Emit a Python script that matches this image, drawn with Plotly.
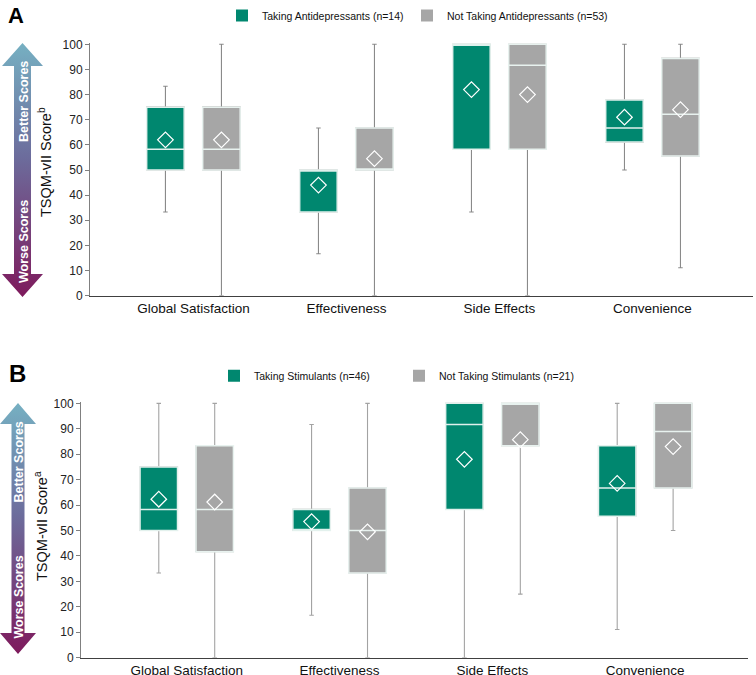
import base64
import plotly.graph_objects as go

# ---------------- data ----------------
categories = ["Global Satisfaction", "Effectiveness", "Side Effects", "Convenience"]

# Panel A: antidepressants
a_take_name = "Taking Antidepressants (n=14)"
a_take_low = [33.3, 16.7, 33.3, 50.0]
a_take_q1 = [50.0, 33.3, 58.3, 61.1]
a_take_med = [58.3, 50.0, 100.0, 66.7]
a_take_q3 = [75.0, 50.0, 100.0, 77.8]
a_take_high = [83.3, 66.7, 100.0, 100.0]
a_take_mean = [62.0, 44.0, 82.0, 71.0]

a_not_name = "Not Taking Antidepressants (n=53)"
a_not_low = [0.0, 0.0, 0.0, 11.1]
a_not_q1 = [50.0, 50.0, 58.3, 55.6]
a_not_med = [58.3, 50.0, 91.7, 72.2]
a_not_q3 = [75.0, 66.7, 100.0, 94.4]
a_not_high = [100.0, 100.0, 100.0, 100.0]
a_not_mean = [62.0, 54.5, 80.0, 74.0]

# Panel B: stimulants
b_take_name = "Taking Stimulants (n=46)"
b_take_low = [33.3, 16.7, 0.0, 11.1]
b_take_q1 = [50.0, 50.0, 58.3, 55.6]
b_take_med = [58.3, 50.0, 91.7, 66.7]
b_take_q3 = [75.0, 58.3, 100.0, 83.3]
b_take_high = [100.0, 91.7, 100.0, 100.0]
b_take_mean = [62.3, 53.5, 78.0, 68.5]

b_not_name = "Not Taking Stimulants (n=21)"
b_not_low = [0.0, 0.0, 25.0, 50.0]
b_not_q1 = [41.7, 33.3, 83.3, 66.7]
b_not_med = [58.3, 50.0, 100.0, 88.9]
b_not_q3 = [83.3, 66.7, 100.0, 100.0]
b_not_high = [100.0, 100.0, 100.0, 100.0]
b_not_mean = [61.2, 49.5, 85.7, 83.0]

y_ticks = [0, 10, 20, 30, 40, 50, 60, 70, 80, 90, 100]
y_title_a = "TSQM-vII Score<sup>b</sup>"
y_title_b = "TSQM-vII Score<sup>a</sup>"

# ---------------- style ----------------
TEAL = "#00876F"
GRAY = "#A6A6A6"
FONT = "Arial, Liberation Sans, sans-serif"
W, H = 756, 675
OFF = 0.183
BW = 0.245

fig = go.Figure()


def add_group(xa, ya, idx_shift, color, whisk_color, low, q1, med, q3, high, mean):
    pos = [i + idx_shift for i in range(len(categories))]
    # whiskers
    fig.add_trace(go.Box(
        x=pos, q1=q1, median=med, q3=q3, lowerfence=low, upperfence=high,
        width=BW, whiskerwidth=0.12, fillcolor=color,
        line=dict(color=whisk_color, width=1.1),
        showlegend=False, hoverinfo="skip", xaxis=xa, yaxis=ya))
    # box body
    fig.add_trace(go.Box(
        x=pos, q1=q1, median=med, q3=q3, lowerfence=q1, upperfence=q3,
        width=BW, whiskerwidth=0, fillcolor=color,
        line=dict(color="rgba(235,245,242,0.95)", width=1.5),
        showlegend=False, hoverinfo="skip", xaxis=xa, yaxis=ya))
    # means
    fig.add_trace(go.Scatter(
        x=pos, y=mean, mode="markers",
        marker=dict(symbol="diamond-open", size=12, color="white", line=dict(width=1.2, color="white")),
        showlegend=False, hoverinfo="skip", xaxis=xa, yaxis=ya))


add_group("x", "y", -OFF, TEAL, "#8A8A8A", a_take_low, a_take_q1, a_take_med, a_take_q3, a_take_high, a_take_mean)
add_group("x", "y", OFF, GRAY, "#8A8A8A", a_not_low, a_not_q1, a_not_med, a_not_q3, a_not_high, a_not_mean)
add_group("x2", "y2", -OFF, TEAL, "#A3A3A3", b_take_low, b_take_q1, b_take_med, b_take_q3, b_take_high, b_take_mean)
add_group("x2", "y2", OFF, GRAY, "#A3A3A3", b_not_low, b_not_q1, b_not_med, b_not_q3, b_not_high, b_not_mean)

# legend entries
for name, col, leg, xa, ya, lw in [(a_take_name, TEAL, "legend", "x", "y", 140),
                                   (a_not_name, GRAY, "legend", "x", "y", None),
                                   (b_take_name, TEAL, "legend2", "x2", "y2", 140),
                                   (b_not_name, GRAY, "legend2", "x2", "y2", None)]:
    fig.add_trace(go.Scatter(x=[None], y=[None], mode="markers", name=name,
                             marker=dict(symbol="square", size=12, color=col),
                             legend=leg, legendwidth=lw, xaxis=xa, yaxis=ya))


def px_x(p):
    return p / W


def px_y(p):
    return 1 - p / H


yax_common = dict(range=[0, 100.6], tickvals=y_ticks, ticks="outside", ticklen=4,
                  tickcolor="#808080", showline=True, linecolor="#808080", linewidth=1,
                  showgrid=False, zeroline=False, automargin=False,
                  tickfont=dict(family=FONT, size=12, color="#222222"))
xax_common = dict(tickvals=list(range(len(categories))), ticktext=categories, ticks="",
                  showline=True, linecolor="#404040", linewidth=1, showgrid=False,
                  zeroline=False, automargin=False,
                  tickfont=dict(family=FONT, size=13.5, color="#111111"))

legend_common = dict(orientation="h", xanchor="left", yanchor="middle",
                     font=dict(family=FONT, size=10.5, color="#111111"), bgcolor="rgba(0,0,0,0)",
                     itemclick=False, itemdoubleclick=False)

fig.update_layout(
    width=W, height=H, autosize=False,
    margin=dict(l=0, r=0, t=0, b=0, pad=0, autoexpand=False),
    paper_bgcolor="white", plot_bgcolor="white",
    font=dict(family=FONT),
    xaxis=dict(domain=[px_x(90), px_x(753)], range=[-0.676, 3.657], anchor="y", **xax_common),
    yaxis=dict(domain=[px_y(295.7), px_y(42.8)], anchor="x", **yax_common),
    xaxis2=dict(domain=[px_x(81), px_x(748)], range=[-0.692, 3.673], anchor="y2", **xax_common),
    yaxis2=dict(domain=[px_y(657.7), px_y(401.8)], anchor="x2", **yax_common),
    boxmode="overlay",
    legend=dict(x=px_x(222), y=px_y(15.5), **legend_common),
    legend2=dict(x=px_x(214), y=px_y(375.7), **legend_common),
)


# gradient arrows drawn as an SVG image in the background
def arrow_poly(cx, top, bottom, head_half, shaft_half, head_h):
    pts = [(cx, top), (cx + head_half, top + head_h), (cx + shaft_half, top + head_h),
           (cx + shaft_half, bottom - head_h), (cx + head_half, bottom - head_h), (cx, bottom),
           (cx - head_half, bottom - head_h), (cx - shaft_half, bottom - head_h),
           (cx - shaft_half, top + head_h), (cx - head_half, top + head_h)]
    return " ".join(f"{x:.1f},{y:.1f}" for x, y in pts)


def grad(gid, y1, y2):
    return (f'<linearGradient id="{gid}" gradientUnits="userSpaceOnUse" x1="0" y1="{y1}" x2="0" y2="{y2}">'
            '<stop offset="0" stop-color="#76B0C2"/>'
            '<stop offset="0.45" stop-color="#6C6C9C"/>'
            '<stop offset="1" stop-color="#7E1A5C"/></linearGradient>')


svg = (f'<svg xmlns="http://www.w3.org/2000/svg" width="{W}" height="{H}" viewBox="0 0 {W} {H}">'
       f'<defs>{grad("ga", 43, 297)}{grad("gb", 403, 654)}</defs>'
       f'<polygon points="{arrow_poly(22.5, 43, 297, 20.5, 8.5, 23)}" fill="url(#ga)"/>'
       f'<polygon points="{arrow_poly(18, 403, 654, 18, 6.5, 21)}" fill="url(#gb)"/>'
       '</svg>')
src = "data:image/svg+xml;base64," + base64.b64encode(svg.encode()).decode()
fig.add_layout_image(dict(source=src, xref="paper", yref="paper", x=0, y=1, sizex=1, sizey=1,
                          xanchor="left", yanchor="top", sizing="stretch", layer="below"))

ann = [
    ("Better Scores", 24, 102), ("Worse Scores", 24, 242),
    ("Better Scores", 18.5, 462), ("Worse Scores", 18.5, 597),
]
for txt, x, y in ann:
    fig.add_annotation(text=f"<b>{txt}</b>", x=px_x(x), y=px_y(y), xref="paper", yref="paper",
                       showarrow=False, textangle=-90,
                       font=dict(family=FONT, size=12.5, color="white"),
                       xanchor="center", yanchor="middle")

# y-axis titles
for txt, x, y in [(y_title_a, 45, 162), (y_title_b, 41, 526)]:
    fig.add_annotation(text=txt, x=px_x(x), y=px_y(y), xref="paper", yref="paper",
                       showarrow=False, textangle=-90,
                       font=dict(family=FONT, size=14.5, color="#111111"),
                       xanchor="center", yanchor="middle")

fig.add_annotation(text="<b>A</b>", x=px_x(6), y=px_y(15), xref="paper", yref="paper",
                   showarrow=False, xanchor="left", yanchor="middle",
                   font=dict(family=FONT, size=22, color="black"))
fig.add_annotation(text="<b>B</b>", x=px_x(7), y=px_y(373), xref="paper", yref="paper",
                   showarrow=False, xanchor="left", yanchor="middle",
                   font=dict(family=FONT, size=24, color="black"))

fig.write_html("out.html", config={"displayModeBar": False},
               post_script="document.body.style.margin='0';")
